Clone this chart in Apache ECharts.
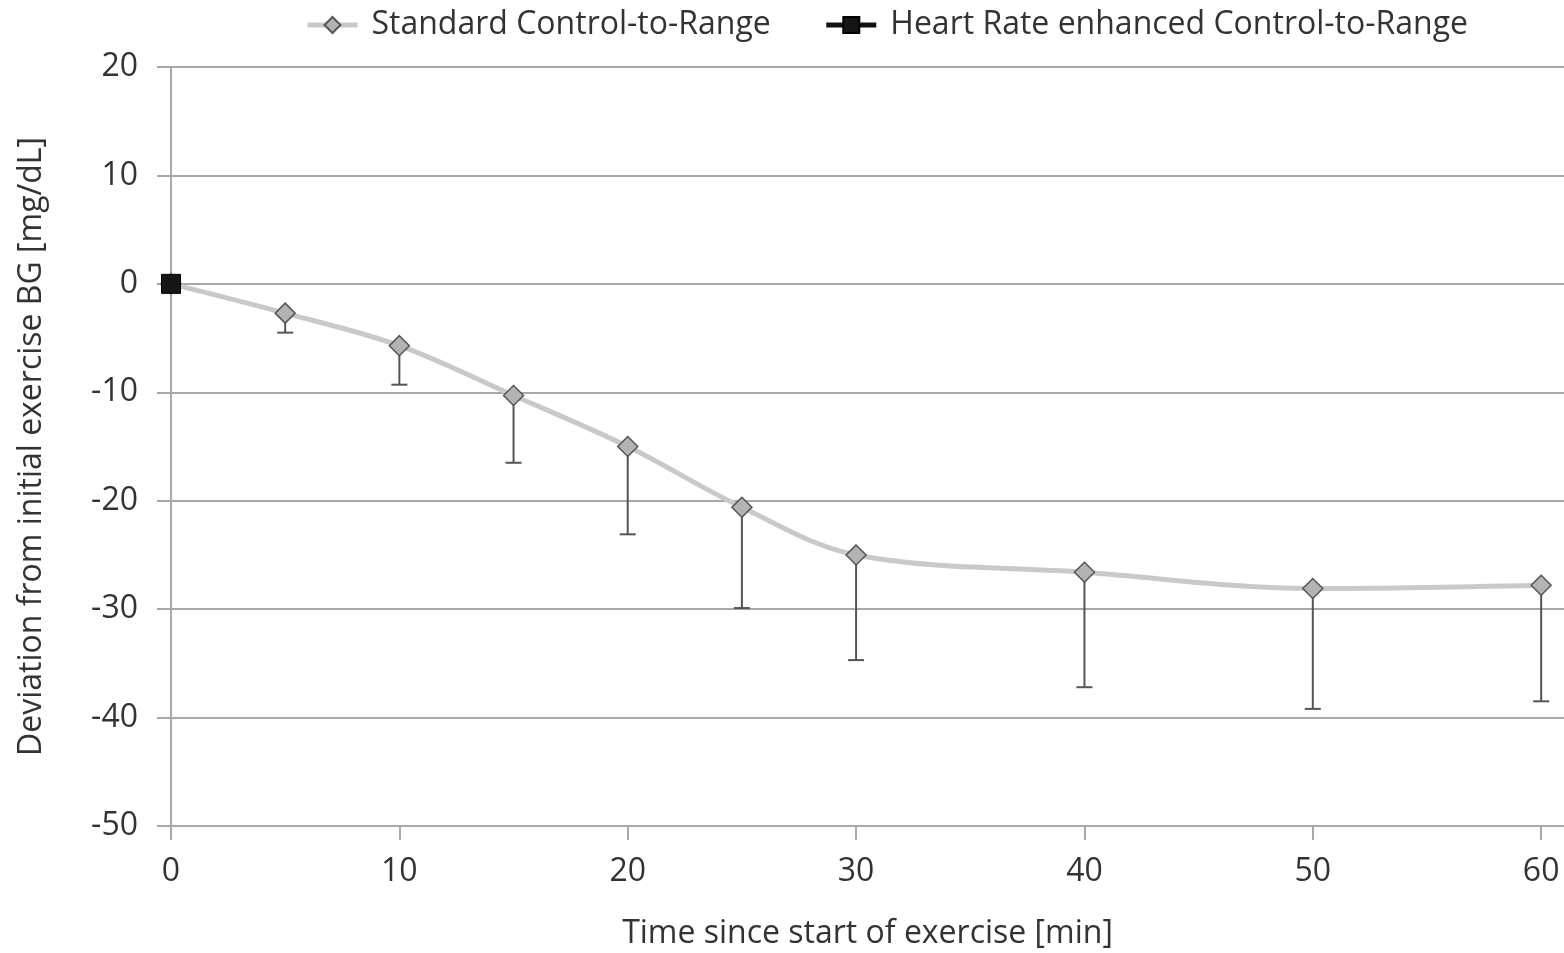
<!DOCTYPE html>
<html>
<head>
<meta charset="utf-8">
<script src="https://cdn.jsdelivr.net/npm/echarts@6/dist/echarts.min.js"></script>
<style>
  html, body { margin: 0; padding: 0; background: #fff; }
  #chart { width: 1564px; height: 953px; }
</style>
</head>
<body>
<div id="chart"></div>
<script>
// Minutes since the start of exercise
const minutes = [0, 5, 10, 15, 20, 25, 30, 40, 50, 60];
// Mean deviation from initial BG, standard controller [mg/dL]
const standardMean = [0, -2.7, -5.7, -10.3, -15.0, -20.6, -25.0, -26.6, -28.1, -27.8];
// Lower end of the error bar (mean - SD) [mg/dL]
const standardLower = [null, -4.5, -9.3, -16.5, -23.1, -29.9, -34.7, -37.2, -39.2, -38.5];
// Heart-rate enhanced controller
const hrMinutes = [0];
const hrMean = [0];
// Tick labels
const xTicks = [0, 10, 20, 30, 40, 50, 60];
const yTicks = [20, 10, 0, -10, -20, -30, -40, -50];

const FONT = '"Open Sans", "Noto Sans", sans-serif';
const TEXT = '#333333';
const GRID = '#a8a8a8';
const FS = 32;

const chart = echarts.init(document.getElementById('chart'), null, { renderer: 'canvas' });

const errData = minutes.map((m, i) => [m, standardMean[i], standardLower[i]])
  .filter(d => d[2] !== null);

chart.setOption({
  animation: false,
  backgroundColor: '#fff',
  grid: { left: 171, right: 0, top: 67, bottom: 127, containLabel: false, outerBoundsMode: 'none' },
  legend: {
    top: 4,
    left: 300,
    itemGap: 53,
    itemWidth: 50,
    itemHeight: 20,
    textStyle: { fontFamily: FONT, fontSize: FS, color: TEXT, padding: [0, 0, 0, 9] },
    data: [
      { name: 'Standard Control-to-Range', lineStyle: { width: 5, color: '#c9c9c9' } },
      { name: 'Heart Rate enhanced Control-to-Range', lineStyle: { width: 5, color: '#111' } }
    ]
  },
  xAxis: {
    type: 'value',
    min: 0,
    max: 61,
    interval: 10,
    name: 'Time since start of exercise [min]',
    nameLocation: 'middle',
    nameGap: 92,
    nameTextStyle: { fontFamily: FONT, fontSize: FS, color: TEXT },
    axisLine: { show: false, onZero: false },
    axisTick: { show: true, length: 14, customValues: xTicks, lineStyle: { color: GRID, width: 2 } },
    axisLabel: { customValues: xTicks, margin: 30, fontFamily: FONT, fontSize: FS, color: TEXT },
    splitLine: { show: false }
  },
  yAxis: {
    type: 'value',
    min: -50,
    max: 20,
    interval: 10,
    name: 'Deviation from initial exercise BG [mg/dL]',
    nameLocation: 'middle',
    nameGap: 123,
    nameTextStyle: { fontFamily: FONT, fontSize: FS, color: TEXT },
    axisLine: { show: true, onZero: false, lineStyle: { color: GRID, width: 2 } },
    axisTick: { show: true, length: 14, customValues: yTicks, lineStyle: { color: GRID, width: 2 } },
    axisLabel: { customValues: yTicks, margin: 33, fontFamily: FONT, fontSize: FS, color: TEXT },
    splitLine: { show: true, lineStyle: { color: GRID, width: 2 } }
  },
  series: [
    {
      name: 'Standard Control-to-Range',
      type: 'line',
      data: minutes.map((m, i) => [m, standardMean[i]]),
      smooth: 0.35,
      z: 3,
      lineStyle: { color: '#c9c9c9', width: 5 },
      symbol: 'diamond',
      symbolSize: 20,
      itemStyle: { color: '#b3b3b3', borderColor: '#555', borderWidth: 1.5 }
    },
    {
      name: 'Standard Control-to-Range error',
      type: 'custom',
      z: 4,
      data: errData,
      renderItem: function (params, api) {
        const top = api.coord([api.value(0), api.value(1)]);
        const bot = api.coord([api.value(0), api.value(2)]);
        const half = 8;
        return {
          type: 'group',
          children: [
            { type: 'line', shape: { x1: top[0], y1: top[1] + 9, x2: bot[0], y2: bot[1] },
              style: { stroke: '#555', lineWidth: 2 } },
            { type: 'line', shape: { x1: bot[0] - half, y1: bot[1], x2: bot[0] + half, y2: bot[1] },
              style: { stroke: '#555', lineWidth: 2 } }
          ]
        };
      }
    },
    {
      name: 'Heart Rate enhanced Control-to-Range',
      type: 'line',
      data: hrMinutes.map((m, i) => [m, hrMean[i]]),
      z: 5,
      lineStyle: { color: '#111', width: 5 },
      symbol: 'rect',
      symbolSize: 19,
      itemStyle: { color: '#151515', borderColor: '#000', borderWidth: 1 }
    }
  ]
});
</script>
</body>
</html>
